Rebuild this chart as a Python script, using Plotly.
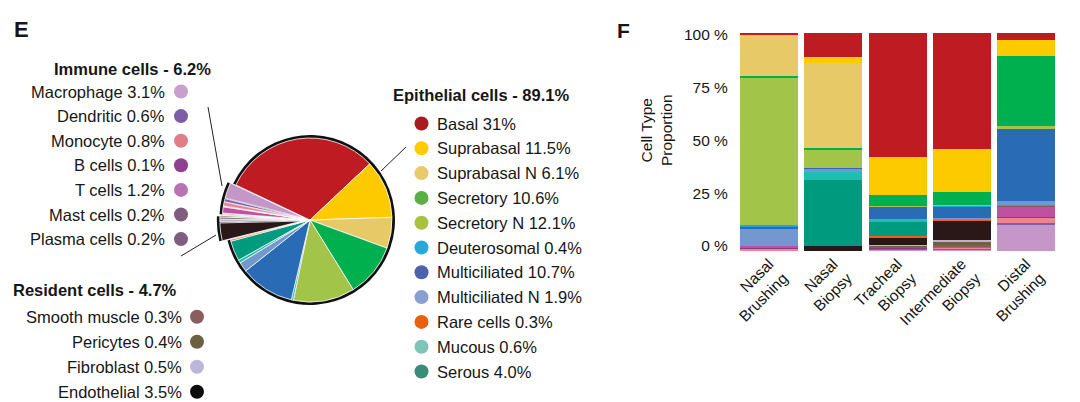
import plotly.graph_objects as go

W, H = 1080, 402
OFF = 8  # page body margin of the viewer: shift layout so the picture lines up

# ---------------- data ----------------
# order = clockwise around the pie starting at Basal, and top-to-bottom in each bar
cell_types = ["Basal", "Suprabasal", "Suprabasal N", "Secretory", "Secretory N",
              "Deuterosomal", "Multiciliated", "Multiciliated N", "Mucous", "Serous",
              "Rare cells", "Endothelial", "Fibroblast", "Pericytes", "Smooth muscle",
              "Plasma cells", "Mast cells", "T cells", "B cells", "Monocyte",
              "Dendritic", "Macrophage"]
pie_values = [31.0, 11.5, 6.1, 10.6, 12.1, 0.4, 10.7, 1.9, 0.6, 4.0, 0.3,
              3.5, 0.5, 0.4, 0.3, 0.2, 0.2, 1.2, 0.1, 0.8, 0.6, 3.1]
cell_groups = ["Epithelial"] * 11 + ["Resident"] * 4 + ["Immune"] * 7

epithelial_legend = ["Basal", "Suprabasal", "Suprabasal N", "Secretory", "Secretory N",
                     "Deuterosomal", "Multiciliated", "Multiciliated N", "Rare cells",
                     "Mucous", "Serous"]
immune_legend = ["Macrophage", "Dendritic", "Monocyte", "B cells", "T cells",
                 "Mast cells", "Plasma cells"]
resident_legend = ["Smooth muscle", "Pericytes", "Fibroblast", "Endothelial"]
group_titles = ["Epithelial cells", "Immune cells", "Resident cells"]
group_totals = [89.1, 6.2, 4.7]

samples = ["Nasal<br>Brushing", "Nasal<br>Biopsy", "Tracheal<br>Biopsy",
           "Intermediate<br>Biopsy", "Distal<br>Brushing"]
# proportions (%) per sample, in cell_types order
nasal_brushing = [0.7, 0.6, 18.5, 0.6, 67.8, 0.5, 1.5, 7.5, 0.0, 0.0, 0.0,
                  0.0, 0.0, 0.0, 0.0, 0.0, 0.0, 1.2, 0.1, 0.7, 0.1, 0.3]
nasal_biopsy = [11.0, 2.7, 39.1, 0.6, 8.6, 0.0, 0.3, 1.5, 3.4, 30.3, 0.2,
                2.3, 0.0, 0.0, 0.0, 0.0, 0.0, 0.0, 0.0, 0.0, 0.0, 0.0]
tracheal_biopsy = [57.0, 17.3, 0.0, 4.9, 0.5, 0.1, 5.4, 0.3, 1.4, 6.4, 0.3,
                   3.5, 0.5, 0.3, 0.2, 0.1, 0.1, 0.3, 0.1, 0.2, 0.6, 0.5]
intermediate_biopsy = [53.3, 19.7, 0.0, 5.8, 0.5, 0.1, 5.3, 0.2, 0.6, 0.2, 0.3,
                       8.9, 0.9, 1.5, 0.6, 0.1, 0.1, 0.3, 0.1, 0.2, 0.7, 0.6]
distal_brushing = [3.4, 7.3, 0.0, 31.8, 1.4, 0.0, 33.3, 1.8, 0.0, 0.0, 0.3,
                   0.0, 0.0, 0.0, 0.1, 0.1, 0.2, 4.6, 0.2, 2.6, 0.9, 12.0]
sample_values = [nasal_brushing, nasal_biopsy, tracheal_biopsy,
                 intermediate_biopsy, distal_brushing]

y_tick_text = ["0 %", "25 %", "50 %", "75 %", "100 %"]

# ---------------- styles ----------------
fill_colors = ["#be1b22", "#fdca00", "#e8c968", "#00b04f", "#a1c449",
               "#1ca8dc", "#2a6bb5", "#7397cf", "#1fbfae", "#009a7e",
               "#e8601c", "#2a1718", "#bcb4d8", "#6b6440", "#8b5a5a",
               "#7d5d7d", "#7d5d7d", "#c050a0", "#8e3a8a", "#ec8494",
               "#7a5fad", "#c597c8"]
legend_colors = {
    "Basal": "#a81c20", "Suprabasal": "#ffcc00", "Suprabasal N": "#e8ca6a",
    "Secretory": "#5aae44", "Secretory N": "#a9c13f", "Deuterosomal": "#29a8d8",
    "Multiciliated": "#4b63ad", "Multiciliated N": "#8b9ed0", "Rare cells": "#e8600f",
    "Mucous": "#7fc5b5", "Serous": "#3a8c78",
    "Macrophage": "#c7a0cc", "Dendritic": "#7b5ea7", "Monocyte": "#e07d8b",
    "B cells": "#8e3f8d", "T cells": "#b874b1", "Mast cells": "#7f5d7e",
    "Plasma cells": "#7f5d7e",
    "Smooth muscle": "#8a5e5e", "Pericytes": "#6a6140", "Fibroblast": "#bdb6d8",
    "Endothelial": "#0d0d0d",
}
FONT = "Liberation Sans, Arial, sans-serif"
TXT = "#161616"


def px(x):
    return (x - OFF) / W


def py(y):
    return 1 - (y - OFF) / H


def fmt(v):
    return f"{v:.0f}%" if v >= 20 else f"{v:.1f}%"


value_of = dict(zip(cell_types, pie_values))

fig = go.Figure()

# ---------------- pie ----------------
cx, cy, r = 310, 220, 82
group_pull = {"Epithelial": 0.0, "Immune": 0.07, "Resident": 0.1}
pulls = [group_pull[g] for g in cell_groups]
max_pull = max(pulls)
half = r * (1 + max_pull)
rotation = -64.7

# black outer rim per group (slightly larger pie drawn behind)
group_order = ["Epithelial", "Resident", "Immune"]
group_sums = [sum(v for v, g in zip(pie_values, cell_groups) if g == grp) for grp in group_order]
r_ring = r + 3
ring_pulls = [group_pull[g] * r / r_ring for g in group_order]
half_ring = r_ring * (1 + max(ring_pulls))
fig.add_trace(go.Pie(
    values=group_sums, labels=group_order, sort=False, direction="clockwise",
    rotation=rotation, pull=ring_pulls, textinfo="none", hoverinfo="skip",
    marker=dict(colors=["#111111"] * 3, line=dict(width=0)),
    domain=dict(x=[px(cx - half_ring), px(cx + half_ring)],
                y=[py(cy + half_ring), py(cy - half_ring)]),
    showlegend=False,
))
fig.add_trace(go.Pie(
    values=pie_values, labels=cell_types, sort=False, direction="clockwise",
    rotation=rotation, pull=pulls, textinfo="none", hoverinfo="skip",
    marker=dict(colors=fill_colors, line=dict(color="white", width=0.8)),
    domain=dict(x=[px(cx - half), px(cx + half)], y=[py(cy + half), py(cy - half)]),
    showlegend=False,
))

# ---------------- stacked bars ----------------
for i in reversed(range(len(cell_types))):
    fig.add_trace(go.Bar(
        x=samples, y=[sv[i] for sv in sample_values], name=cell_types[i],
        marker=dict(color=fill_colors[i], line=dict(width=0)),
        showlegend=False, hoverinfo="skip", xaxis="x", yaxis="y",
    ))

# ---------------- legends (dots + text) ----------------
annotations = []
dot_x, dot_y, dot_c = [], [], []

annotations.append(dict(x=px(391), y=py(95), text=f"<b>{group_titles[0]} - {group_totals[0]}%</b>",
                        xanchor="left", yanchor="middle", font=dict(size=16.5)))
for k, name in enumerate(epithelial_legend):
    yy = 123.5 + k * 24.8
    dot_x.append(421.5); dot_y.append(yy); dot_c.append(legend_colors[name])
    annotations.append(dict(x=px(435), y=py(yy), text=f"{name} {fmt(value_of[name])}",
                            xanchor="left", yanchor="middle", font=dict(size=16.5)))

annotations.append(dict(x=px(52), y=py(69), text=f"<b>{group_titles[1]} - {group_totals[1]}%</b>",
                        xanchor="left", yanchor="middle", font=dict(size=16.5)))
for k, name in enumerate(immune_legend):
    yy = 91.5 + k * 24.6
    dot_x.append(181); dot_y.append(yy); dot_c.append(legend_colors[name])
    annotations.append(dict(x=px(167), y=py(yy), text=f"{name} {fmt(value_of[name])}",
                            xanchor="right", yanchor="middle", font=dict(size=16.5)))

annotations.append(dict(x=px(11), y=py(290), text=f"<b>{group_titles[2]} - {group_totals[2]}%</b>",
                        xanchor="left", yanchor="middle", font=dict(size=16.5)))
for k, name in enumerate(resident_legend):
    yy = 316.8 + k * 25
    dot_x.append(197); dot_y.append(yy); dot_c.append(legend_colors[name])
    annotations.append(dict(x=px(184), y=py(yy), text=f"{name} {fmt(value_of[name])}",
                            xanchor="right", yanchor="middle", font=dict(size=16.5)))

fig.add_trace(go.Scatter(
    x=dot_x, y=dot_y, mode="markers", xaxis="x2", yaxis="y2",
    marker=dict(size=14, color=dot_c, line=dict(width=0)),
    showlegend=False, hoverinfo="skip", cliponaxis=False,
))

annotations.append(dict(x=px(12), y=py(29.5), text="<b>E</b>", xanchor="left",
                        yanchor="middle", font=dict(size=22)))
annotations.append(dict(x=px(615), y=py(30.5), text="<b>F</b>", xanchor="left",
                        yanchor="middle", font=dict(size=21)))
annotations.append(dict(x=px(656), y=py(130), text="Cell Type<br>Proportion", textangle=-90,
                        xanchor="center", yanchor="middle", font=dict(size=15.5)))

for a in annotations:
    a.update(xref="paper", yref="paper", showarrow=False)
    a["font"].update(family=FONT, color=TXT)

# leader lines from the pie groups to their legends
lines = [((208, 107), (222, 186)),
         ((216, 235), (181, 256)),
         ((381, 171), (406, 147))]
shapes = [dict(type="line", xref="paper", yref="paper",
               x0=px(a[0]), y0=py(a[1]), x1=px(b[0]), y1=py(b[1]),
               line=dict(color="#222222", width=1)) for a, b in lines]

# bar panel geometry (pixels of the picture)
y_bottom, y_top = 251, 33
bar_left, bar_right = 736.9, 1058.1
tick_pix = [245.8, 193.1, 140.4, 87.7, 35.0]
tick_vals = [(y_bottom - t) / (y_bottom - y_top) * 100 for t in tick_pix]

fig.update_layout(
    width=W, height=H,
    margin=dict(l=0, r=0, t=0, b=0, pad=0, autoexpand=False),
    paper_bgcolor="white", plot_bgcolor="rgba(0,0,0,0)",
    barmode="stack", bargap=0.097,
    font=dict(family=FONT, color=TXT),
    annotations=annotations, shapes=shapes,
    xaxis=dict(domain=[px(bar_left), px(bar_right)], range=[-0.5, 4.5],
               tickangle=-45, tickfont=dict(size=15.5, color=TXT, family=FONT),
               showgrid=False, zeroline=False, showline=False, ticks="",
               automargin=False),
    yaxis=dict(domain=[py(y_bottom), py(y_top)], range=[0, 100],
               tickvals=tick_vals, ticktext=y_tick_text,
               tickfont=dict(size=15.5, color=TXT, family=FONT),
               showgrid=False, zeroline=False, showline=False, ticks="",
               ticklabelstandoff=8, automargin=False),
    xaxis2=dict(domain=[0, 1], range=[OFF, W + OFF], visible=False, anchor="y2",
                automargin=False),
    yaxis2=dict(domain=[0, 1], range=[H + OFF, OFF], visible=False, anchor="x2",
                automargin=False),
)

fig.write_html("out.html")
